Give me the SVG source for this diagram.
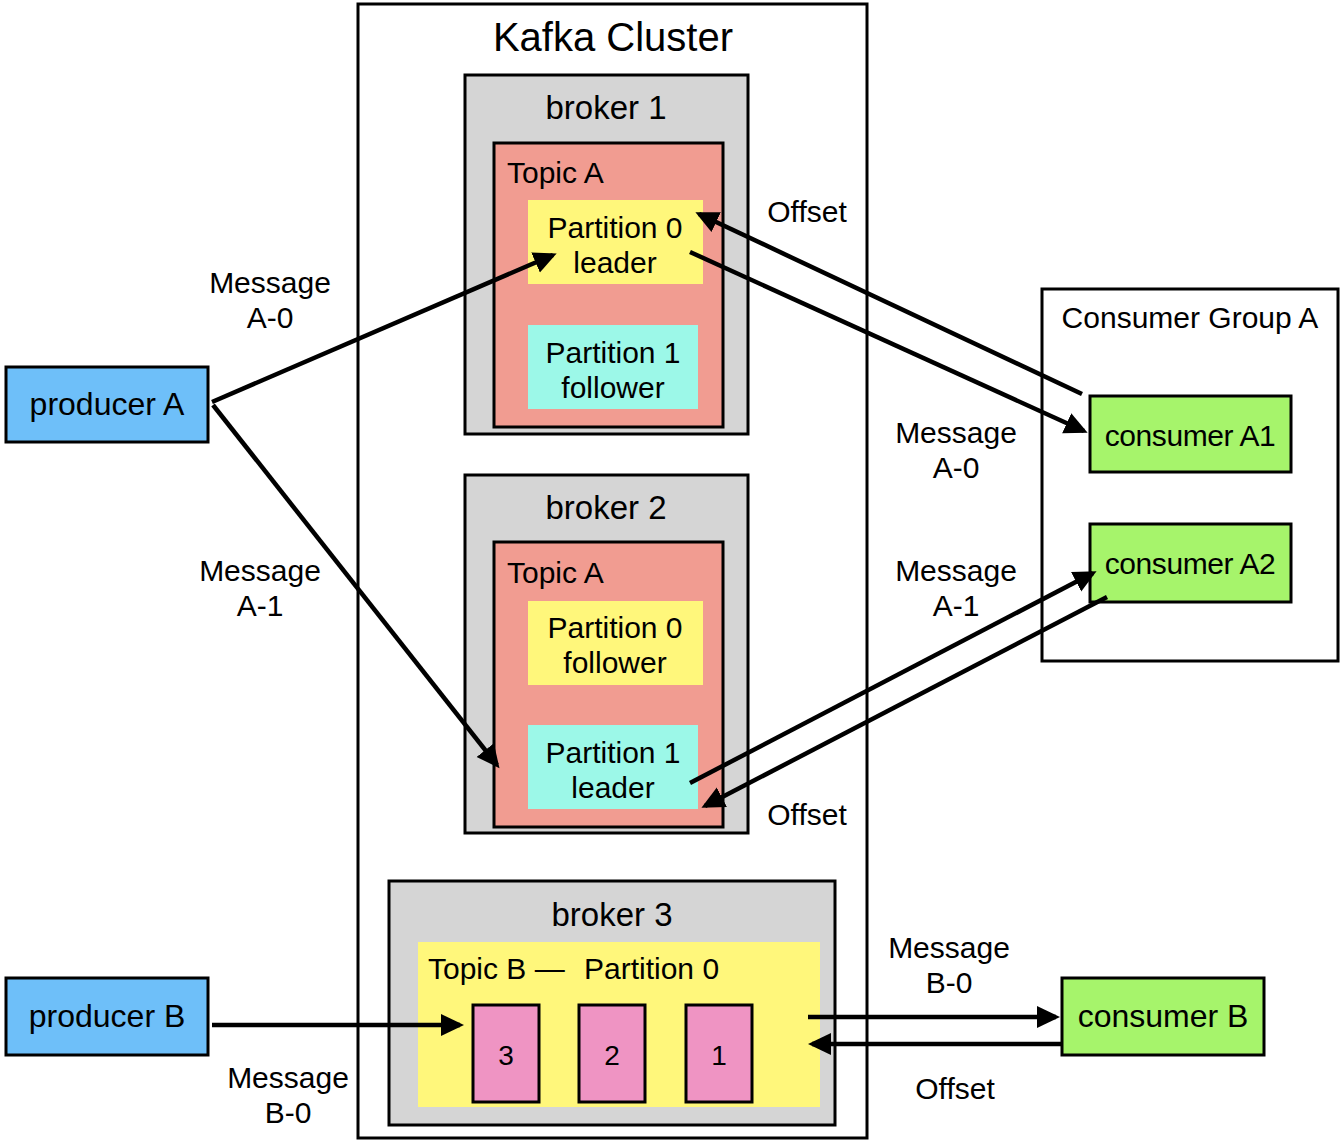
<svg xmlns="http://www.w3.org/2000/svg" width="1342" height="1148" viewBox="0 0 1342 1148">
<defs>
<style>
text{font-family:"Liberation Sans",Arial,Helvetica,sans-serif;fill:#000;text-anchor:middle}
.box{stroke:#000;stroke-width:3}
.gray{fill:#d5d5d5}
.sal{fill:#f19c91}
.yel{fill:#fff77b}
.aqua{fill:#9cf8e8}
.pink{fill:#ef94c3}
.blue{fill:#6ebff9}
.green{fill:#a6f46b}
.white{fill:#fff}
.lbl{font-size:30px}
.part{font-size:30px}
.brk{font-size:33px}
.big{font-size:32px}
.con{font-size:30px;letter-spacing:-0.4px}
.num{font-size:28px}
.l{text-anchor:start}
.conn line{stroke:#000;stroke-width:4.5;marker-end:url(#ah)}
</style>
<marker id="ah" markerUnits="userSpaceOnUse" markerWidth="26" markerHeight="24" refX="19" refY="11" orient="auto" viewBox="0 0 26 24">
<path d="M0,0 L23,11 L0,22 z" fill="#000"/>
</marker>
</defs>
<rect width="1342" height="1148" fill="#fff"/>

<g id="kafka-cluster">
<rect class="box white" x="358" y="4" width="509" height="1134"/>
<text x="613" y="51" style="font-size:40px">Kafka Cluster</text>
</g>

<g id="broker1">
<rect class="box gray" x="465" y="75" width="283" height="359"/>
<text class="brk" x="606" y="119">broker 1</text>
<g id="broker1-topicA">
<rect class="box sal" x="494" y="143" width="229" height="284"/>
<text class="lbl l" x="507" y="183">Topic A</text>
</g>
<g id="broker1-p0">
<rect class="yel" x="528" y="200" width="175" height="84"/>
<text class="part" x="615" y="238">Partition 0</text>
<text class="part" x="615" y="273">leader</text>
</g>
<g id="broker1-p1">
<rect class="aqua" x="528" y="325" width="170" height="84"/>
<text class="part" x="613" y="363">Partition 1</text>
<text class="part" x="613" y="398">follower</text>
</g>
</g>

<g id="broker2">
<rect class="box gray" x="465" y="475" width="283" height="358"/>
<text class="brk" x="606" y="519">broker 2</text>
<g id="broker2-topicA">
<rect class="box sal" x="494" y="542" width="229" height="285"/>
<text class="lbl l" x="507" y="583">Topic A</text>
</g>
<g id="broker2-p0">
<rect class="yel" x="528" y="601" width="175" height="84"/>
<text class="part" x="615" y="638">Partition 0</text>
<text class="part" x="615" y="673">follower</text>
</g>
<g id="broker2-p1">
<rect class="aqua" x="528" y="725" width="170" height="84"/>
<text class="part" x="613" y="763">Partition 1</text>
<text class="part" x="613" y="798">leader</text>
</g>
</g>

<g id="broker3">
<rect class="box gray" x="389" y="881" width="446" height="244"/>
<text class="brk" x="612" y="926">broker 3</text>
<g id="broker3-topicB">
<rect class="yel" x="418" y="942" width="402" height="165"/>
<text class="lbl l" x="428" y="979">Topic B —<tspan x="584">Partition 0</tspan></text>
</g>
<g id="msg3">
<rect class="box pink" x="473" y="1005" width="66" height="97"/>
<text class="num" x="506" y="1065">3</text>
</g>
<g id="msg2">
<rect class="box pink" x="579" y="1005" width="66" height="97"/>
<text class="num" x="612" y="1065">2</text>
</g>
<g id="msg1">
<rect class="box pink" x="686" y="1005" width="66" height="97"/>
<text class="num" x="719" y="1065">1</text>
</g>
</g>

<g id="producerA">
<rect class="box blue" x="6" y="367" width="202" height="75"/>
<text class="big" x="107" y="415">producer A</text>
</g>
<g id="producerB">
<rect class="box blue" x="6" y="978" width="202" height="77"/>
<text class="big" x="107" y="1027">producer B</text>
</g>

<g id="consumer-group-a">
<rect class="box white" x="1042" y="289" width="296" height="372"/>
<text class="lbl" x="1190" y="328">Consumer Group A</text>
</g>
<g id="consumerA1">
<rect class="box green" x="1090" y="396" width="201" height="76"/>
<text class="con" x="1190" y="446">consumer A1</text>
</g>
<g id="consumerA2">
<rect class="box green" x="1090" y="524" width="201" height="78"/>
<text class="con" x="1190" y="574">consumer A2</text>
</g>
<g id="consumerB">
<rect class="box green" x="1062" y="978" width="202" height="77"/>
<text class="big" x="1163" y="1027">consumer B</text>
</g>

<g id="connectors" class="conn">
<line x1="212" y1="402" x2="553" y2="255"/>
<line x1="213" y1="405" x2="497" y2="765"/>
<line x1="690" y1="252" x2="1084" y2="431"/>
<line x1="1082" y1="394" x2="699" y2="214"/>
<line x1="690" y1="783" x2="1093" y2="573"/>
<line x1="1107" y1="597" x2="705" y2="806"/>
<line x1="212" y1="1025" x2="460" y2="1025"/>
<line x1="808" y1="1017" x2="1056" y2="1017"/>
<line x1="1062" y1="1044" x2="812" y2="1044"/>
</g>

<g id="labels">
<text class="lbl" x="270" y="293">Message</text>
<text class="lbl" x="270" y="328">A-0</text>
<text class="lbl" x="260" y="581">Message</text>
<text class="lbl" x="260" y="616">A-1</text>
<text class="lbl" x="807" y="222">Offset</text>
<text class="lbl" x="956" y="443">Message</text>
<text class="lbl" x="956" y="478">A-0</text>
<text class="lbl" x="956" y="581">Message</text>
<text class="lbl" x="956" y="616">A-1</text>
<text class="lbl" x="807" y="825">Offset</text>
<text class="lbl" x="949" y="958">Message</text>
<text class="lbl" x="949" y="993">B-0</text>
<text class="lbl" x="288" y="1088">Message</text>
<text class="lbl" x="288" y="1123">B-0</text>
<text class="lbl" x="955" y="1099">Offset</text>
</g>
</svg>
